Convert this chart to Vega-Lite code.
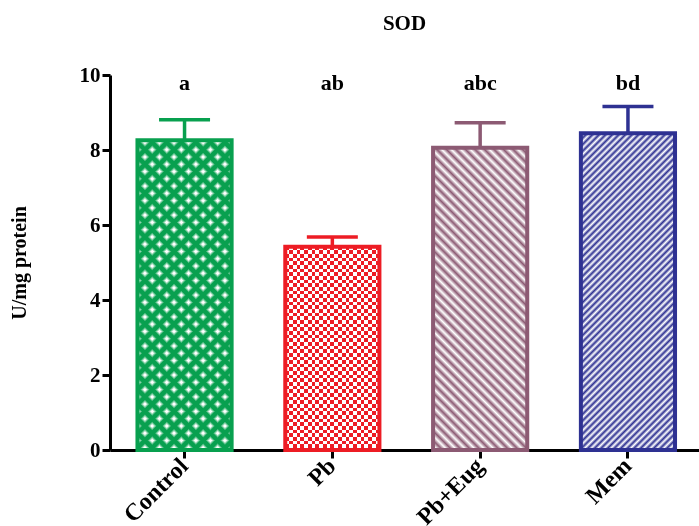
{
"$schema": "https://vega.github.io/schema/vega-lite/v6.json",
"width": 589,
"height": 375,
"autosize": {"type": "none"},
"padding": {"left": 110, "top": 75, "right": 0, "bottom": 76},
"background": "white",
"title": {"text": "SOD", "font": "Liberation Serif", "fontSize": 21, "fontWeight": "bold", "color": "#000", "anchor": "middle", "frame": "group", "baseline": "alphabetic", "offset": 13},
"data": {"values": [
{"group": "Control", "mean": 8.26, "upper": 8.81, "sig": "a"},
{"group": "Pb", "mean": 5.42, "upper": 5.68, "sig": "ab"},
{"group": "Pb+Eug", "mean": 8.06, "upper": 8.73, "sig": "abc"},
{"group": "Mem", "mean": 8.45, "upper": 9.16, "sig": "bd"}
]},
"encoding": {
"x": {"field": "group", "type": "nominal", "title": null, "scale": {"domain": ["Control", "Pb", "Pb+Eug", "Mem"], "paddingInner": 0.363, "paddingOuter": 0.174, "align": 0.534}}
},
"layer": [
{"transform": [{"filter": "datum.group === 'Control'"}],
 "mark": {"type": "bar", "opacity": 1, "fill": {"gradient": "linear", "x1": 0, "y1": 1, "x2": 0.3626, "y2": -0.1936, "stops": [
{"offset":0,"color":"#08a04f"},{"offset":0.012,"color":"#08a04f"},{"offset":0.021,"color":"#fff"},{"offset":0.027,"color":"#fff"},
{"offset":0.036,"color":"#08a04f"},{"offset":0.048,"color":"#08a04f"},{"offset":0.057,"color":"#fff"},{"offset":0.063,"color":"#fff"},
{"offset":0.072,"color":"#08a04f"},{"offset":0.084,"color":"#08a04f"},{"offset":0.093,"color":"#fff"},{"offset":0.099,"color":"#fff"},
{"offset":0.108,"color":"#08a04f"},{"offset":0.12,"color":"#08a04f"},{"offset":0.129,"color":"#fff"},{"offset":0.135,"color":"#fff"},
{"offset":0.144,"color":"#08a04f"},{"offset":0.156,"color":"#08a04f"},{"offset":0.165,"color":"#fff"},{"offset":0.171,"color":"#fff"},
{"offset":0.18,"color":"#08a04f"},{"offset":0.192,"color":"#08a04f"},{"offset":0.201,"color":"#fff"},{"offset":0.207,"color":"#fff"},
{"offset":0.216,"color":"#08a04f"},{"offset":0.228,"color":"#08a04f"},{"offset":0.237,"color":"#fff"},{"offset":0.243,"color":"#fff"},
{"offset":0.252,"color":"#08a04f"},{"offset":0.264,"color":"#08a04f"},{"offset":0.273,"color":"#fff"},{"offset":0.279,"color":"#fff"},
{"offset":0.288,"color":"#08a04f"},{"offset":0.3,"color":"#08a04f"},{"offset":0.309,"color":"#fff"},{"offset":0.315,"color":"#fff"},
{"offset":0.324,"color":"#08a04f"},{"offset":0.336,"color":"#08a04f"},{"offset":0.345,"color":"#fff"},{"offset":0.351,"color":"#fff"},
{"offset":0.36,"color":"#08a04f"},{"offset":0.372,"color":"#08a04f"},{"offset":0.381,"color":"#fff"},{"offset":0.387,"color":"#fff"},
{"offset":0.396,"color":"#08a04f"},{"offset":0.408,"color":"#08a04f"},{"offset":0.417,"color":"#fff"},{"offset":0.423,"color":"#fff"},
{"offset":0.432,"color":"#08a04f"},{"offset":0.444,"color":"#08a04f"},{"offset":0.453,"color":"#fff"},{"offset":0.459,"color":"#fff"},
{"offset":0.468,"color":"#08a04f"},{"offset":0.48,"color":"#08a04f"},{"offset":0.489,"color":"#fff"},{"offset":0.495,"color":"#fff"},
{"offset":0.504,"color":"#08a04f"},{"offset":0.516,"color":"#08a04f"},{"offset":0.525,"color":"#fff"},{"offset":0.531,"color":"#fff"},
{"offset":0.54,"color":"#08a04f"},{"offset":0.552,"color":"#08a04f"},{"offset":0.561,"color":"#fff"},{"offset":0.567,"color":"#fff"},
{"offset":0.576,"color":"#08a04f"},{"offset":0.588,"color":"#08a04f"},{"offset":0.597,"color":"#fff"},{"offset":0.603,"color":"#fff"},
{"offset":0.612,"color":"#08a04f"},{"offset":0.624,"color":"#08a04f"},{"offset":0.633,"color":"#fff"},{"offset":0.639,"color":"#fff"},
{"offset":0.648,"color":"#08a04f"},{"offset":0.66,"color":"#08a04f"},{"offset":0.669,"color":"#fff"},{"offset":0.675,"color":"#fff"},
{"offset":0.684,"color":"#08a04f"},{"offset":0.696,"color":"#08a04f"},{"offset":0.705,"color":"#fff"},{"offset":0.711,"color":"#fff"},
{"offset":0.72,"color":"#08a04f"},{"offset":0.732,"color":"#08a04f"},{"offset":0.741,"color":"#fff"},{"offset":0.747,"color":"#fff"},
{"offset":0.756,"color":"#08a04f"},{"offset":0.768,"color":"#08a04f"},{"offset":0.777,"color":"#fff"},{"offset":0.783,"color":"#fff"},
{"offset":0.792,"color":"#08a04f"},{"offset":0.804,"color":"#08a04f"},{"offset":0.813,"color":"#fff"},{"offset":0.819,"color":"#fff"},
{"offset":0.828,"color":"#08a04f"},{"offset":0.84,"color":"#08a04f"},{"offset":0.849,"color":"#fff"},{"offset":0.855,"color":"#fff"},
{"offset":0.864,"color":"#08a04f"},{"offset":0.876,"color":"#08a04f"},{"offset":0.885,"color":"#fff"},{"offset":0.891,"color":"#fff"},
{"offset":0.9,"color":"#08a04f"},{"offset":0.912,"color":"#08a04f"},{"offset":0.921,"color":"#fff"},{"offset":0.927,"color":"#fff"},
{"offset":0.936,"color":"#08a04f"},{"offset":0.948,"color":"#08a04f"},{"offset":0.957,"color":"#fff"},{"offset":0.963,"color":"#fff"},
{"offset":0.972,"color":"#08a04f"},{"offset":0.984,"color":"#08a04f"},{"offset":0.993,"color":"#fff"},{"offset":0.999,"color":"#fff"}
 ]}},
 "encoding": {"y": {"field": "mean", "type": "quantitative", "title": "U/mg protein", "scale": {"domain": [0, 10]}}}},
{"transform": [{"filter": "datum.group === 'Control'"}],
 "mark": {"type": "bar", "opacity": 1, "blend": "darken", "fill": {"gradient": "linear", "x1": 0, "y1": 0, "x2": 0.3626, "y2": 1.1936, "stops": [
{"offset":0,"color":"#08a04f"},{"offset":0.012,"color":"#08a04f"},{"offset":0.021,"color":"#fff"},{"offset":0.027,"color":"#fff"},
{"offset":0.036,"color":"#08a04f"},{"offset":0.048,"color":"#08a04f"},{"offset":0.057,"color":"#fff"},{"offset":0.063,"color":"#fff"},
{"offset":0.072,"color":"#08a04f"},{"offset":0.084,"color":"#08a04f"},{"offset":0.093,"color":"#fff"},{"offset":0.099,"color":"#fff"},
{"offset":0.108,"color":"#08a04f"},{"offset":0.12,"color":"#08a04f"},{"offset":0.129,"color":"#fff"},{"offset":0.135,"color":"#fff"},
{"offset":0.144,"color":"#08a04f"},{"offset":0.156,"color":"#08a04f"},{"offset":0.165,"color":"#fff"},{"offset":0.171,"color":"#fff"},
{"offset":0.18,"color":"#08a04f"},{"offset":0.192,"color":"#08a04f"},{"offset":0.201,"color":"#fff"},{"offset":0.207,"color":"#fff"},
{"offset":0.216,"color":"#08a04f"},{"offset":0.228,"color":"#08a04f"},{"offset":0.237,"color":"#fff"},{"offset":0.243,"color":"#fff"},
{"offset":0.252,"color":"#08a04f"},{"offset":0.264,"color":"#08a04f"},{"offset":0.273,"color":"#fff"},{"offset":0.279,"color":"#fff"},
{"offset":0.288,"color":"#08a04f"},{"offset":0.3,"color":"#08a04f"},{"offset":0.309,"color":"#fff"},{"offset":0.315,"color":"#fff"},
{"offset":0.324,"color":"#08a04f"},{"offset":0.336,"color":"#08a04f"},{"offset":0.345,"color":"#fff"},{"offset":0.351,"color":"#fff"},
{"offset":0.36,"color":"#08a04f"},{"offset":0.372,"color":"#08a04f"},{"offset":0.381,"color":"#fff"},{"offset":0.387,"color":"#fff"},
{"offset":0.396,"color":"#08a04f"},{"offset":0.408,"color":"#08a04f"},{"offset":0.417,"color":"#fff"},{"offset":0.423,"color":"#fff"},
{"offset":0.432,"color":"#08a04f"},{"offset":0.444,"color":"#08a04f"},{"offset":0.453,"color":"#fff"},{"offset":0.459,"color":"#fff"},
{"offset":0.468,"color":"#08a04f"},{"offset":0.48,"color":"#08a04f"},{"offset":0.489,"color":"#fff"},{"offset":0.495,"color":"#fff"},
{"offset":0.504,"color":"#08a04f"},{"offset":0.516,"color":"#08a04f"},{"offset":0.525,"color":"#fff"},{"offset":0.531,"color":"#fff"},
{"offset":0.54,"color":"#08a04f"},{"offset":0.552,"color":"#08a04f"},{"offset":0.561,"color":"#fff"},{"offset":0.567,"color":"#fff"},
{"offset":0.576,"color":"#08a04f"},{"offset":0.588,"color":"#08a04f"},{"offset":0.597,"color":"#fff"},{"offset":0.603,"color":"#fff"},
{"offset":0.612,"color":"#08a04f"},{"offset":0.624,"color":"#08a04f"},{"offset":0.633,"color":"#fff"},{"offset":0.639,"color":"#fff"},
{"offset":0.648,"color":"#08a04f"},{"offset":0.66,"color":"#08a04f"},{"offset":0.669,"color":"#fff"},{"offset":0.675,"color":"#fff"},
{"offset":0.684,"color":"#08a04f"},{"offset":0.696,"color":"#08a04f"},{"offset":0.705,"color":"#fff"},{"offset":0.711,"color":"#fff"},
{"offset":0.72,"color":"#08a04f"},{"offset":0.732,"color":"#08a04f"},{"offset":0.741,"color":"#fff"},{"offset":0.747,"color":"#fff"},
{"offset":0.756,"color":"#08a04f"},{"offset":0.768,"color":"#08a04f"},{"offset":0.777,"color":"#fff"},{"offset":0.783,"color":"#fff"},
{"offset":0.792,"color":"#08a04f"},{"offset":0.804,"color":"#08a04f"},{"offset":0.813,"color":"#fff"},{"offset":0.819,"color":"#fff"},
{"offset":0.828,"color":"#08a04f"},{"offset":0.84,"color":"#08a04f"},{"offset":0.849,"color":"#fff"},{"offset":0.855,"color":"#fff"},
{"offset":0.864,"color":"#08a04f"},{"offset":0.876,"color":"#08a04f"},{"offset":0.885,"color":"#fff"},{"offset":0.891,"color":"#fff"},
{"offset":0.9,"color":"#08a04f"},{"offset":0.912,"color":"#08a04f"},{"offset":0.921,"color":"#fff"},{"offset":0.927,"color":"#fff"},
{"offset":0.936,"color":"#08a04f"},{"offset":0.948,"color":"#08a04f"},{"offset":0.957,"color":"#fff"},{"offset":0.963,"color":"#fff"},
{"offset":0.972,"color":"#08a04f"},{"offset":0.984,"color":"#08a04f"},{"offset":0.993,"color":"#fff"},{"offset":0.999,"color":"#fff"}
 ]}},
 "encoding": {"y": {"field": "mean", "type": "quantitative", "title": "U/mg protein"}}},
{"transform": [{"filter": "datum.group === 'Pb'"}],
 "mark": {"type": "bar", "opacity": 1, "fill": {"gradient": "linear", "x1": 0, "y1": 0, "x2": 0, "y2": 1, "stops": [
{"offset":0,"color":"#000"},{"offset":0.018,"color":"#000"},{"offset":0.018,"color":"#fff"},{"offset":0.036,"color":"#fff"},{"offset":0.036,"color":"#000"},{"offset":0.054,"color":"#000"},{"offset":0.054,"color":"#fff"},{"offset":0.072,"color":"#fff"},{"offset":0.072,"color":"#000"},{"offset":0.09,"color":"#000"},{"offset":0.09,"color":"#fff"},{"offset":0.108,"color":"#fff"},{"offset":0.108,"color":"#000"},{"offset":0.126,"color":"#000"},{"offset":0.126,"color":"#fff"},{"offset":0.144,"color":"#fff"},{"offset":0.144,"color":"#000"},{"offset":0.162,"color":"#000"},{"offset":0.162,"color":"#fff"},{"offset":0.18,"color":"#fff"},{"offset":0.18,"color":"#000"},{"offset":0.198,"color":"#000"},{"offset":0.198,"color":"#fff"},{"offset":0.216,"color":"#fff"},{"offset":0.216,"color":"#000"},{"offset":0.234,"color":"#000"},{"offset":0.234,"color":"#fff"},{"offset":0.252,"color":"#fff"},{"offset":0.252,"color":"#000"},{"offset":0.27,"color":"#000"},{"offset":0.27,"color":"#fff"},{"offset":0.288,"color":"#fff"},{"offset":0.288,"color":"#000"},{"offset":0.306,"color":"#000"},{"offset":0.306,"color":"#fff"},{"offset":0.324,"color":"#fff"},{"offset":0.324,"color":"#000"},{"offset":0.342,"color":"#000"},{"offset":0.342,"color":"#fff"},{"offset":0.36,"color":"#fff"},{"offset":0.36,"color":"#000"},{"offset":0.378,"color":"#000"},{"offset":0.378,"color":"#fff"},{"offset":0.396,"color":"#fff"},{"offset":0.396,"color":"#000"},{"offset":0.414,"color":"#000"},{"offset":0.414,"color":"#fff"},{"offset":0.432,"color":"#fff"},{"offset":0.432,"color":"#000"},{"offset":0.45,"color":"#000"},{"offset":0.45,"color":"#fff"},{"offset":0.468,"color":"#fff"},{"offset":0.468,"color":"#000"},{"offset":0.486,"color":"#000"},{"offset":0.486,"color":"#fff"},{"offset":0.504,"color":"#fff"},{"offset":0.504,"color":"#000"},{"offset":0.522,"color":"#000"},{"offset":0.522,"color":"#fff"},{"offset":0.54,"color":"#fff"},{"offset":0.54,"color":"#000"},{"offset":0.558,"color":"#000"},{"offset":0.558,"color":"#fff"},{"offset":0.576,"color":"#fff"},{"offset":0.576,"color":"#000"},{"offset":0.594,"color":"#000"},{"offset":0.594,"color":"#fff"},{"offset":0.612,"color":"#fff"},{"offset":0.612,"color":"#000"},{"offset":0.63,"color":"#000"},{"offset":0.63,"color":"#fff"},{"offset":0.648,"color":"#fff"},{"offset":0.648,"color":"#000"},{"offset":0.666,"color":"#000"},{"offset":0.666,"color":"#fff"},{"offset":0.684,"color":"#fff"},{"offset":0.684,"color":"#000"},{"offset":0.702,"color":"#000"},{"offset":0.702,"color":"#fff"},{"offset":0.72,"color":"#fff"},{"offset":0.72,"color":"#000"},{"offset":0.738,"color":"#000"},{"offset":0.738,"color":"#fff"},{"offset":0.756,"color":"#fff"},{"offset":0.756,"color":"#000"},{"offset":0.774,"color":"#000"},{"offset":0.774,"color":"#fff"},{"offset":0.792,"color":"#fff"},{"offset":0.792,"color":"#000"},{"offset":0.81,"color":"#000"},{"offset":0.81,"color":"#fff"},{"offset":0.828,"color":"#fff"},{"offset":0.828,"color":"#000"},{"offset":0.846,"color":"#000"},{"offset":0.846,"color":"#fff"},{"offset":0.864,"color":"#fff"},{"offset":0.864,"color":"#000"},{"offset":0.882,"color":"#000"},{"offset":0.882,"color":"#fff"},{"offset":0.9,"color":"#fff"},{"offset":0.9,"color":"#000"},{"offset":0.918,"color":"#000"},{"offset":0.918,"color":"#fff"},{"offset":0.936,"color":"#fff"},{"offset":0.936,"color":"#000"},{"offset":0.954,"color":"#000"},{"offset":0.954,"color":"#fff"},{"offset":0.972,"color":"#fff"},{"offset":0.972,"color":"#000"},{"offset":0.99,"color":"#000"},{"offset":0.99,"color":"#fff"},{"offset":1,"color":"#fff"}
 ]}},
 "encoding": {"y": {"field": "mean", "type": "quantitative", "title": "U/mg protein"}}},
{"transform": [{"filter": "datum.group === 'Pb'"}],
 "mark": {"type": "bar", "opacity": 1, "blend": "difference", "fill": {"gradient": "linear", "x1": 0, "y1": 0, "x2": 1, "y2": 0, "stops": [
{"offset":0,"color":"#000"},{"offset":0.04,"color":"#000"},{"offset":0.04,"color":"#fff"},{"offset":0.08,"color":"#fff"},{"offset":0.08,"color":"#000"},{"offset":0.12,"color":"#000"},{"offset":0.12,"color":"#fff"},{"offset":0.16,"color":"#fff"},{"offset":0.16,"color":"#000"},{"offset":0.2,"color":"#000"},{"offset":0.2,"color":"#fff"},{"offset":0.24,"color":"#fff"},{"offset":0.24,"color":"#000"},{"offset":0.28,"color":"#000"},{"offset":0.28,"color":"#fff"},{"offset":0.32,"color":"#fff"},{"offset":0.32,"color":"#000"},{"offset":0.36,"color":"#000"},{"offset":0.36,"color":"#fff"},{"offset":0.4,"color":"#fff"},{"offset":0.4,"color":"#000"},{"offset":0.44,"color":"#000"},{"offset":0.44,"color":"#fff"},{"offset":0.48,"color":"#fff"},{"offset":0.48,"color":"#000"},{"offset":0.52,"color":"#000"},{"offset":0.52,"color":"#fff"},{"offset":0.56,"color":"#fff"},{"offset":0.56,"color":"#000"},{"offset":0.6,"color":"#000"},{"offset":0.6,"color":"#fff"},{"offset":0.64,"color":"#fff"},{"offset":0.64,"color":"#000"},{"offset":0.68,"color":"#000"},{"offset":0.68,"color":"#fff"},{"offset":0.72,"color":"#fff"},{"offset":0.72,"color":"#000"},{"offset":0.76,"color":"#000"},{"offset":0.76,"color":"#fff"},{"offset":0.8,"color":"#fff"},{"offset":0.8,"color":"#000"},{"offset":0.84,"color":"#000"},{"offset":0.84,"color":"#fff"},{"offset":0.88,"color":"#fff"},{"offset":0.88,"color":"#000"},{"offset":0.92,"color":"#000"},{"offset":0.92,"color":"#fff"},{"offset":0.96,"color":"#fff"},{"offset":0.96,"color":"#000"},{"offset":1,"color":"#000"}
 ]}},
 "encoding": {"y": {"field": "mean", "type": "quantitative", "title": "U/mg protein"}}},
{"transform": [{"filter": "datum.group === 'Pb'"}],
 "mark": {"type": "bar", "opacity": 1, "blend": "screen", "fill": "#ed1c24"},
 "encoding": {"y": {"field": "mean", "type": "quantitative", "title": "U/mg protein"}}},
{"transform": [{"filter": "datum.group === 'Pb+Eug'"}],
 "mark": {"type": "bar", "opacity": 1, "fill": {"gradient": "linear", "x1": 0, "y1": 1, "x2": 0.3722, "y2": -0.1955, "stops": [
{"offset":0,"color":"#8c5a73"},{"offset":0.012,"color":"#fff"},{"offset":0.024,"color":"#8c5a73"},{"offset":0.036,"color":"#fff"},{"offset":0.048,"color":"#8c5a73"},{"offset":0.06,"color":"#fff"},{"offset":0.072,"color":"#8c5a73"},{"offset":0.084,"color":"#fff"},{"offset":0.096,"color":"#8c5a73"},{"offset":0.108,"color":"#fff"},{"offset":0.12,"color":"#8c5a73"},{"offset":0.132,"color":"#fff"},{"offset":0.144,"color":"#8c5a73"},{"offset":0.156,"color":"#fff"},{"offset":0.168,"color":"#8c5a73"},{"offset":0.18,"color":"#fff"},{"offset":0.192,"color":"#8c5a73"},{"offset":0.204,"color":"#fff"},{"offset":0.216,"color":"#8c5a73"},{"offset":0.228,"color":"#fff"},{"offset":0.24,"color":"#8c5a73"},{"offset":0.252,"color":"#fff"},{"offset":0.264,"color":"#8c5a73"},{"offset":0.276,"color":"#fff"},{"offset":0.288,"color":"#8c5a73"},{"offset":0.3,"color":"#fff"},{"offset":0.312,"color":"#8c5a73"},{"offset":0.324,"color":"#fff"},{"offset":0.336,"color":"#8c5a73"},{"offset":0.348,"color":"#fff"},{"offset":0.36,"color":"#8c5a73"},{"offset":0.372,"color":"#fff"},{"offset":0.384,"color":"#8c5a73"},{"offset":0.396,"color":"#fff"},{"offset":0.408,"color":"#8c5a73"},{"offset":0.42,"color":"#fff"},{"offset":0.432,"color":"#8c5a73"},{"offset":0.444,"color":"#fff"},{"offset":0.456,"color":"#8c5a73"},{"offset":0.468,"color":"#fff"},{"offset":0.48,"color":"#8c5a73"},{"offset":0.492,"color":"#fff"},{"offset":0.504,"color":"#8c5a73"},{"offset":0.516,"color":"#fff"},{"offset":0.528,"color":"#8c5a73"},{"offset":0.54,"color":"#fff"},{"offset":0.552,"color":"#8c5a73"},{"offset":0.564,"color":"#fff"},{"offset":0.576,"color":"#8c5a73"},{"offset":0.588,"color":"#fff"},{"offset":0.6,"color":"#8c5a73"},{"offset":0.612,"color":"#fff"},{"offset":0.624,"color":"#8c5a73"},{"offset":0.636,"color":"#fff"},{"offset":0.648,"color":"#8c5a73"},{"offset":0.66,"color":"#fff"},{"offset":0.672,"color":"#8c5a73"},{"offset":0.684,"color":"#fff"},{"offset":0.696,"color":"#8c5a73"},{"offset":0.708,"color":"#fff"},{"offset":0.72,"color":"#8c5a73"},{"offset":0.732,"color":"#fff"},{"offset":0.744,"color":"#8c5a73"},{"offset":0.756,"color":"#fff"},{"offset":0.768,"color":"#8c5a73"},{"offset":0.78,"color":"#fff"},{"offset":0.792,"color":"#8c5a73"},{"offset":0.804,"color":"#fff"},{"offset":0.816,"color":"#8c5a73"},{"offset":0.828,"color":"#fff"},{"offset":0.84,"color":"#8c5a73"},{"offset":0.852,"color":"#fff"},{"offset":0.864,"color":"#8c5a73"},{"offset":0.876,"color":"#fff"},{"offset":0.888,"color":"#8c5a73"},{"offset":0.9,"color":"#fff"},{"offset":0.912,"color":"#8c5a73"},{"offset":0.924,"color":"#fff"},{"offset":0.936,"color":"#8c5a73"},{"offset":0.948,"color":"#fff"},{"offset":0.96,"color":"#8c5a73"},{"offset":0.972,"color":"#fff"},{"offset":0.984,"color":"#8c5a73"},{"offset":0.996,"color":"#fff"}
 ]}},
 "encoding": {"y": {"field": "mean", "type": "quantitative", "title": "U/mg protein"}}},
{"transform": [{"filter": "datum.group === 'Mem'"}],
 "mark": {"type": "bar", "opacity": 1, "fill": {"gradient": "linear", "x1": 0, "y1": 0, "x2": 0.3539, "y2": 1.1919, "stops": [
{"offset":0,"color":"#2e3192"},{"offset":0.008,"color":"#fff"},{"offset":0.016,"color":"#2e3192"},{"offset":0.024,"color":"#fff"},{"offset":0.032,"color":"#2e3192"},{"offset":0.04,"color":"#fff"},{"offset":0.048,"color":"#2e3192"},{"offset":0.056,"color":"#fff"},{"offset":0.064,"color":"#2e3192"},{"offset":0.072,"color":"#fff"},{"offset":0.08,"color":"#2e3192"},{"offset":0.088,"color":"#fff"},{"offset":0.096,"color":"#2e3192"},{"offset":0.104,"color":"#fff"},{"offset":0.112,"color":"#2e3192"},{"offset":0.12,"color":"#fff"},{"offset":0.128,"color":"#2e3192"},{"offset":0.136,"color":"#fff"},{"offset":0.144,"color":"#2e3192"},{"offset":0.152,"color":"#fff"},{"offset":0.16,"color":"#2e3192"},{"offset":0.168,"color":"#fff"},{"offset":0.176,"color":"#2e3192"},{"offset":0.184,"color":"#fff"},{"offset":0.192,"color":"#2e3192"},{"offset":0.2,"color":"#fff"},{"offset":0.208,"color":"#2e3192"},{"offset":0.216,"color":"#fff"},{"offset":0.224,"color":"#2e3192"},{"offset":0.232,"color":"#fff"},{"offset":0.24,"color":"#2e3192"},{"offset":0.248,"color":"#fff"},{"offset":0.256,"color":"#2e3192"},{"offset":0.264,"color":"#fff"},{"offset":0.272,"color":"#2e3192"},{"offset":0.28,"color":"#fff"},{"offset":0.288,"color":"#2e3192"},{"offset":0.296,"color":"#fff"},{"offset":0.304,"color":"#2e3192"},{"offset":0.312,"color":"#fff"},{"offset":0.32,"color":"#2e3192"},{"offset":0.328,"color":"#fff"},{"offset":0.336,"color":"#2e3192"},{"offset":0.344,"color":"#fff"},{"offset":0.352,"color":"#2e3192"},{"offset":0.36,"color":"#fff"},{"offset":0.368,"color":"#2e3192"},{"offset":0.376,"color":"#fff"},{"offset":0.384,"color":"#2e3192"},{"offset":0.392,"color":"#fff"},{"offset":0.4,"color":"#2e3192"},{"offset":0.408,"color":"#fff"},{"offset":0.416,"color":"#2e3192"},{"offset":0.424,"color":"#fff"},{"offset":0.432,"color":"#2e3192"},{"offset":0.44,"color":"#fff"},{"offset":0.448,"color":"#2e3192"},{"offset":0.456,"color":"#fff"},{"offset":0.464,"color":"#2e3192"},{"offset":0.472,"color":"#fff"},{"offset":0.48,"color":"#2e3192"},{"offset":0.488,"color":"#fff"},{"offset":0.496,"color":"#2e3192"},{"offset":0.504,"color":"#fff"},{"offset":0.512,"color":"#2e3192"},{"offset":0.52,"color":"#fff"},{"offset":0.528,"color":"#2e3192"},{"offset":0.536,"color":"#fff"},{"offset":0.544,"color":"#2e3192"},{"offset":0.552,"color":"#fff"},{"offset":0.56,"color":"#2e3192"},{"offset":0.568,"color":"#fff"},{"offset":0.576,"color":"#2e3192"},{"offset":0.584,"color":"#fff"},{"offset":0.592,"color":"#2e3192"},{"offset":0.6,"color":"#fff"},{"offset":0.608,"color":"#2e3192"},{"offset":0.616,"color":"#fff"},{"offset":0.624,"color":"#2e3192"},{"offset":0.632,"color":"#fff"},{"offset":0.64,"color":"#2e3192"},{"offset":0.648,"color":"#fff"},{"offset":0.656,"color":"#2e3192"},{"offset":0.664,"color":"#fff"},{"offset":0.672,"color":"#2e3192"},{"offset":0.68,"color":"#fff"},{"offset":0.688,"color":"#2e3192"},{"offset":0.696,"color":"#fff"},{"offset":0.704,"color":"#2e3192"},{"offset":0.712,"color":"#fff"},{"offset":0.72,"color":"#2e3192"},{"offset":0.728,"color":"#fff"},{"offset":0.736,"color":"#2e3192"},{"offset":0.744,"color":"#fff"},{"offset":0.752,"color":"#2e3192"},{"offset":0.76,"color":"#fff"},{"offset":0.768,"color":"#2e3192"},{"offset":0.776,"color":"#fff"},{"offset":0.784,"color":"#2e3192"},{"offset":0.792,"color":"#fff"},{"offset":0.8,"color":"#2e3192"},{"offset":0.808,"color":"#fff"},{"offset":0.816,"color":"#2e3192"},{"offset":0.824,"color":"#fff"},{"offset":0.832,"color":"#2e3192"},{"offset":0.84,"color":"#fff"},{"offset":0.848,"color":"#2e3192"},{"offset":0.856,"color":"#fff"},{"offset":0.864,"color":"#2e3192"},{"offset":0.872,"color":"#fff"},{"offset":0.88,"color":"#2e3192"},{"offset":0.888,"color":"#fff"},{"offset":0.896,"color":"#2e3192"},{"offset":0.904,"color":"#fff"},{"offset":0.912,"color":"#2e3192"},{"offset":0.92,"color":"#fff"},{"offset":0.928,"color":"#2e3192"},{"offset":0.936,"color":"#fff"},{"offset":0.944,"color":"#2e3192"},{"offset":0.952,"color":"#fff"},{"offset":0.96,"color":"#2e3192"},{"offset":0.968,"color":"#fff"},{"offset":0.976,"color":"#2e3192"},{"offset":0.984,"color":"#fff"},{"offset":0.992,"color":"#2e3192"}
 ]}},
 "encoding": {"y": {"field": "mean", "type": "quantitative", "title": "U/mg protein"}}},
{"mark": {"type": "bar", "filled": false, "strokeWidth": 4, "opacity": 1},
 "encoding": {
  "y": {"field": "mean", "type": "quantitative", "title": "U/mg protein"},
  "color": {"field": "group", "type": "nominal", "legend": null, "scale": {"domain": ["Control", "Pb", "Pb+Eug", "Mem"], "range": ["#08a04f", "#ed1c24", "#8c5a73", "#2e3192"]}}}},
{"mark": {"type": "rule", "strokeWidth": 3.5, "opacity": 1},
 "encoding": {
  "y": {"field": "mean", "type": "quantitative", "title": "U/mg protein"},
  "y2": {"field": "upper"},
  "color": {"field": "group", "type": "nominal", "legend": null}}},
{"mark": {"type": "tick", "size": 51, "thickness": 3.5, "opacity": 1, "orient": "horizontal"},
 "encoding": {
  "y": {"field": "upper", "type": "quantitative", "title": "U/mg protein"},
  "color": {"field": "group", "type": "nominal", "legend": null}}},
{"mark": {"type": "text", "font": "Liberation Serif", "fontSize": 22, "fontWeight": "bold", "baseline": "alphabetic", "align": "center", "color": "#000"},
 "encoding": {
  "y": {"datum": 9.6, "type": "quantitative", "title": "U/mg protein"},
  "text": {"field": "sig"}}}
],
"config": {
 "view": {"stroke": null},
 "axis": {"grid": false, "domainColor": "#000", "domainWidth": 3, "tickColor": "#000", "tickWidth": 3, "tickSize": 8, "labelColor": "#000", "labelFont": "Liberation Serif", "labelFontSize": 21, "labelFontWeight": "bold", "titleFont": "Liberation Serif", "titleFontWeight": "bold", "titleColor": "#000", "zindex": 1},
 "axisX": {"labelAngle": -45, "labelAlign": "right", "labelBaseline": "middle", "labelPadding": 4, "labelFontSize": 24},
 "axisY": {"tickCount": 5, "titleFontSize": 20, "titlePadding": 50, "labelPadding": 2}
}
}
